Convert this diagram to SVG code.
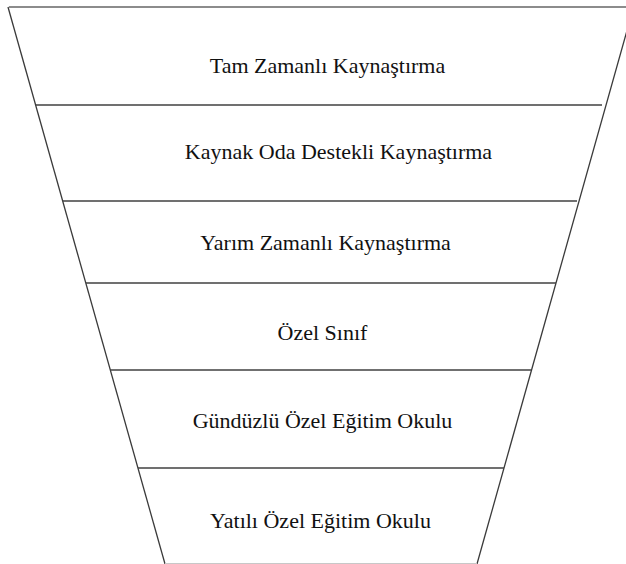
<svg xmlns="http://www.w3.org/2000/svg" width="626" height="564" viewBox="0 0 626 564">
<style>
.side{stroke:#3a3a3a;stroke-width:1.3;fill:none}
.div{stroke:#404040;stroke-width:1.3;fill:none}
.top{stroke:#8c8c8c;stroke-width:2.2;fill:none}
.bot{stroke:#c8c8c8;stroke-width:1;fill:none}
.lbl{font-family:"Liberation Serif","Times New Roman",serif;font-size:22px;fill:#111;text-anchor:middle}
</style>
<rect width="626" height="564" fill="#fff"/>
<g id="connectors">
<line class="top" x1="9" y1="7" x2="626" y2="7"/>
<line class="side" x1="8" y1="7" x2="165" y2="564"/>
<line class="side" x1="633.6" y1="7" x2="477" y2="564"/>
<line class="div" x1="36" y1="105" x2="602" y2="105"/>
<line class="div" x1="63" y1="201" x2="577" y2="201"/>
<line class="div" x1="86" y1="283" x2="556" y2="283"/>
<line class="div" x1="110" y1="370" x2="531" y2="370"/>
<line class="div" x1="138" y1="468" x2="504" y2="468"/>
<line class="bot" x1="165" y1="563.5" x2="477" y2="563.5"/>
</g>
<g id="level1"><text class="lbl" x="327.5" y="73">Tam Zamanlı Kaynaştırma</text></g>
<g id="level2"><text class="lbl" x="338.5" y="159">Kaynak Oda Destekli Kaynaştırma</text></g>
<g id="level3"><text class="lbl" x="325.5" y="250">Yarım Zamanlı Kaynaştırma</text></g>
<g id="level4"><text class="lbl" x="322.5" y="340">Özel Sınıf</text></g>
<g id="level5"><text class="lbl" x="322.5" y="428">Gündüzlü Özel Eğitim Okulu</text></g>
<g id="level6"><text class="lbl" x="320.5" y="528">Yatılı Özel Eğitim Okulu</text></g>
</svg>
